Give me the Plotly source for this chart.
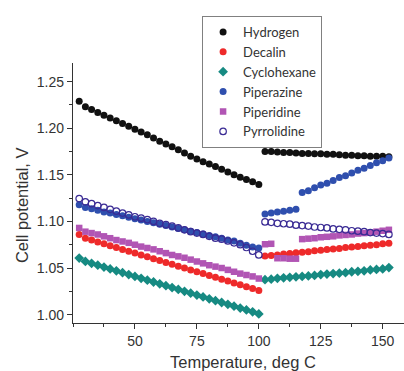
import plotly.graph_objects as go

# Temperatures (deg C)
temps_low = [27.5, 30, 32.5, 35, 37.5, 40, 42.5, 45, 47.5, 50, 52.5, 55, 57.5, 60, 62.5,
             65, 67.5, 70, 72.5, 75, 77.5, 80, 82.5, 85, 87.5, 90, 92.5, 95, 97.5, 100]
temps_high = [102.5, 105, 107.5, 110, 112.5, 115, 117.5, 120, 122.5, 125, 127.5, 130,
              132.5, 135, 137.5, 140, 142.5, 145, 147.5, 150, 152.5]

hydrogen_low = [1.229, 1.223, 1.220, 1.217, 1.214, 1.211, 1.208, 1.205, 1.202, 1.199,
                1.196, 1.193, 1.1895, 1.186, 1.183, 1.180, 1.177, 1.1735, 1.170, 1.167,
                1.164, 1.1615, 1.159, 1.156, 1.153, 1.150, 1.1475, 1.145, 1.1425, 1.1395]
hydrogen_high = [1.175, 1.175, 1.1745, 1.174, 1.174, 1.1735, 1.173, 1.173, 1.1725, 1.1725,
                 1.172, 1.172, 1.1715, 1.171, 1.171, 1.1705, 1.1705, 1.170, 1.170, 1.170, 1.1695]

decalin_low = [1.086, 1.082, 1.080, 1.078, 1.076, 1.074, 1.072, 1.070, 1.068, 1.066,
               1.064, 1.062, 1.060, 1.058, 1.056, 1.054, 1.052, 1.050, 1.048, 1.046,
               1.044, 1.042, 1.040, 1.038, 1.036, 1.034, 1.032, 1.030, 1.028, 1.026]
decalin_high = [1.063, 1.0635, 1.064, 1.065, 1.0655, 1.0665, 1.067, 1.0675, 1.0685, 1.069,
                1.070, 1.0705, 1.071, 1.072, 1.0725, 1.073, 1.074, 1.0745, 1.075, 1.076, 1.0765]

cyclohexane_low = [1.0607, 1.057, 1.055, 1.053, 1.051, 1.049, 1.047, 1.045, 1.043, 1.041,
                   1.039, 1.037, 1.035, 1.033, 1.031, 1.029, 1.027, 1.025, 1.023, 1.021,
                   1.019, 1.017, 1.015, 1.013, 1.011, 1.009, 1.007, 1.005, 1.003, 1.0007]
cyclohexane_high = [1.0375, 1.038, 1.039, 1.0395, 1.040, 1.0405, 1.041, 1.0415, 1.042, 1.043,
                    1.0435, 1.044, 1.0445, 1.045, 1.046, 1.0465, 1.047, 1.048, 1.0485, 1.049, 1.0505]

piperazine_low = [1.118, 1.115, 1.1135, 1.112, 1.110, 1.109, 1.1075, 1.106, 1.1045, 1.103,
                  1.1015, 1.100, 1.0985, 1.097, 1.0955, 1.094, 1.0925, 1.091, 1.0895, 1.088,
                  1.0865, 1.085, 1.0835, 1.082, 1.080, 1.079, 1.0765, 1.0745, 1.0725, 1.0714]
piperazine_high = [1.108, 1.109, 1.110, 1.111, 1.112, 1.113,
                   1.131, 1.133, 1.136, 1.139, 1.141, 1.144, 1.147, 1.149, 1.152, 1.155,
                   1.157, 1.160, 1.163, 1.165, 1.168]

piperidine_low = [1.093, 1.089, 1.0875, 1.086, 1.084, 1.082, 1.080, 1.0785, 1.077, 1.075,
                  1.073, 1.0715, 1.070, 1.068, 1.066, 1.064, 1.0625, 1.061, 1.059, 1.057,
                  1.055, 1.053, 1.0515, 1.050, 1.048, 1.046, 1.044, 1.0425, 1.041, 1.0387]
piperidine_high = [1.0755, 1.076, 1.0605, 1.0605, 1.060, 1.060,
                   1.081, 1.0815, 1.082, 1.083, 1.0835, 1.084, 1.085, 1.0855, 1.086, 1.087,
                   1.0875, 1.088, 1.089, 1.090, 1.091]

pyrrolidine_low = [1.1245, 1.121, 1.119, 1.117, 1.115, 1.113, 1.111, 1.109, 1.107, 1.105,
                   1.1035, 1.102, 1.100, 1.098, 1.0965, 1.095, 1.093, 1.091, 1.089, 1.0875,
                   1.086, 1.084, 1.082, 1.081, 1.079, 1.077, 1.075, 1.072, 1.068, 1.064]
pyrrolidine_high = [1.0995, 1.099, 1.098, 1.0975, 1.097, 1.096, 1.0955, 1.095, 1.094, 1.0935,
                    1.093, 1.092, 1.0915, 1.091, 1.090, 1.0895, 1.089, 1.088, 1.0875, 1.087, 1.086]

x_ticks = [50, 75, 100, 125, 150]
y_ticks = [1.00, 1.05, 1.10, 1.15, 1.20, 1.25]
y_tick_labels = ["1.00", "1.05", "1.10", "1.15", "1.20", "1.25"]

series = [
    ("Hydrogen", hydrogen_low, hydrogen_high, "circle", "#111111", 7),
    ("Decalin", decalin_low, decalin_high, "circle", "#ee2a2a", 7),
    ("Cyclohexane", cyclohexane_low, cyclohexane_high, "diamond", "#168a82", 7.5),
    ("Piperazine", piperazine_low, piperazine_high, "circle", "#2f4fae", 7),
    ("Piperidine", piperidine_low, piperidine_high, "square", "#b155b4", 6.5),
    ("Pyrrolidine", pyrrolidine_low, pyrrolidine_high, "circle-open", "#3a2b94", 6.5),
]

fig = go.Figure()
for name, lo, hi, sym, col, sz in series:
    marker = dict(symbol=sym, color=col, size=sz)
    if sym.endswith("open"):
        marker["line"] = dict(color=col, width=1.2)
    else:
        marker["line"] = dict(width=0)
    fig.add_trace(go.Scatter(x=temps_low + temps_high, y=lo + hi, mode="markers",
                             name=name, marker=marker))

axis_col = "#333333"
fig.update_layout(
    width=404, height=371,
    margin=dict(l=73, r=0, t=63, b=48),
    paper_bgcolor="white", plot_bgcolor="white",
    font=dict(family="Liberation Sans, Arial, sans-serif", color="#333333", size=14),
    showlegend=True,
    legend=dict(x=0.39, y=1.181, xanchor="left", yanchor="top",
                bordercolor="#808080", borderwidth=1, bgcolor="white",
                font=dict(family="Lato, Noto Sans, sans-serif", size=13, color="#333333"),
                tracegroupgap=0),
    xaxis=dict(range=[25, 158.6], tickmode="array", tickvals=x_ticks,
               showgrid=False, zeroline=False, showline=True, linecolor=axis_col,
               linewidth=1.3, ticks="outside", ticklen=5, tickwidth=1.2, tickcolor=axis_col,
               minor=dict(ticks="outside", dtick=12.5, tick0=0, ticklen=3,
                          tickcolor=axis_col, tickwidth=1.1),
               tickfont=dict(size=14)),
    yaxis=dict(range=[0.991, 1.270], tickmode="array", tickvals=y_ticks,
               ticktext=y_tick_labels,
               showgrid=False, zeroline=False, showline=True, linecolor=axis_col,
               linewidth=1.3, ticks="outside", ticklen=5, tickwidth=1.2, tickcolor=axis_col,
               minor=dict(ticks="outside", dtick=0.025, tick0=1.0, ticklen=3,
                          tickcolor=axis_col, tickwidth=1.1),
               tickfont=dict(size=14)),
    annotations=[
        dict(text="Temperature, deg C", xref="paper", yref="paper", x=0.514, y=-0.150,
             showarrow=False, xanchor="center", yanchor="middle",
             font=dict(size=16.5, color="#333333")),
        dict(text="Cell potential, V", xref="paper", yref="paper", x=-0.154, y=0.4537,
             showarrow=False, xanchor="center", yanchor="middle", textangle=-90,
             font=dict(size=16.5, color="#333333")),
    ],
)

fig.write_html("out.html", config={"displayModeBar": False},
               post_script="document.body.style.margin='0';")
